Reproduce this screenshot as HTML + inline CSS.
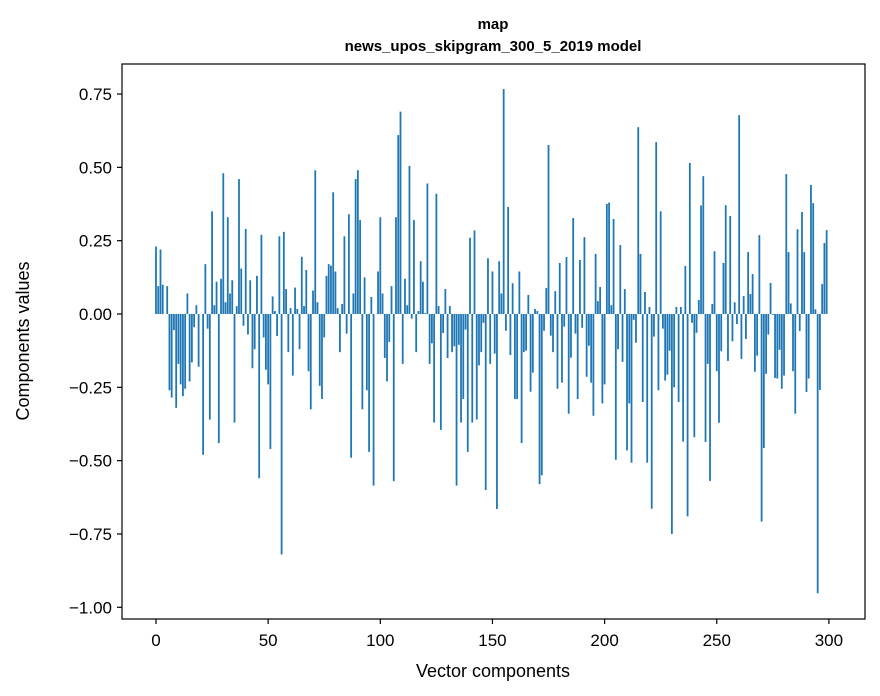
<!DOCTYPE html>
<html><head><meta charset="utf-8">
<style>
body{margin:0;background:#fff;}
svg{display:block;font-family:"Liberation Sans","DejaVu Sans",sans-serif;}
</style></head>
<body>
<svg id="chart" width="880" height="696" viewBox="0 0 880 696">
<rect x="0" y="0" width="880" height="696" fill="#fff"/>
<text x="493" y="29" text-anchor="middle" font-size="15" font-weight="bold">map</text>
<text x="493" y="51" text-anchor="middle" font-size="15" font-weight="bold">news_upos_skipgram_300_5_2019 model</text>
<g id="bars"></g>
<rect x="122" y="64" width="743" height="555" fill="none" stroke="#000" stroke-width="1.2"/>
<g id="xticks"></g>
<g id="yticks"></g>
<text x="493" y="677" text-anchor="middle" font-size="18">Vector components</text>
<text transform="translate(29,341) rotate(-90)" text-anchor="middle" font-size="18">Components values</text>
</svg>
<script>
const values = [
0.23,0.095,0.22,0.10,0.0,0.095,-0.26,-0.285,-0.055,-0.32,-0.17,-0.24,-0.28,-0.255,0.07,-0.23,-0.165,-0.045,0.03,-0.18,0.0,-0.48,0.17,-0.05,-0.36,0.35,0.03,0.11,-0.44,0.12,0.48,0.04,0.33,0.07,0.115,-0.37,0.027,0.46,0.155,-0.04,0.29,-0.07,0.115,-0.185,-0.12,0.13,-0.56,0.27,-0.08,
-0.19,-0.24,-0.46,0.06,0.01,-0.075,0.265,-0.82,0.28,0.085,-0.13,0.02,-0.21,0.09,0.017,-0.12,0.195,0.027,0.15,-0.195,-0.325,0.08,0.49,0.04,-0.245,-0.29,-0.08,0.13,0.17,0.165,0.415,0.145,0.02,-0.13,0.034,0.265,-0.067,0.34,-0.49,0.07,0.46,0.49,0.32,-0.325,0.125,-0.26,-0.47,0.058,-0.585,
0.0,
0.145,0.33,0.07,-0.15,-0.23,-0.095,0.095,-0.57,0.33,0.61,0.69,-0.17,0.12,0.03,0.505,-0.016,0.32,-0.13,0.01,0.18,0.11,0.003,0.445,-0.17,-0.10,-0.37,0.41,0.027,-0.395,-0.065,0.085,-0.15,0.027,-0.13,-0.11,-0.585,-0.105,-0.37,-0.29,-0.053,-0.47,0.26,-0.37,0.285,-0.36,-0.175,-0.13,-0.03,
-0.60,0.19,-0.17,0.145,-0.135,-0.665,0.18,0.07,0.767,-0.057,0.365,-0.14,0.105,-0.29,-0.29,0.145,-0.44,-0.13,-0.125,0.065,-0.265,-0.20,0.017,0.01,-0.58,-0.55,-0.057,0.089,0.576,-0.074,-0.13,0.078,-0.255,0.174,-0.234,-0.043,0.194,-0.34,-0.149,0.327,-0.067,-0.29,0.184,-0.047,0.262,-0.214,-0.108,-0.234,-0.347,
0.205,0.044,0.092,-0.305,-0.24,0.375,0.38,0.03,0.324,-0.497,-0.12,0.235,-0.163,0.085,-0.465,-0.305,-0.507,-0.02,-0.098,0.637,0.205,-0.30,0.075,-0.507,0.024,-0.664,-0.077,0.586,-0.26,0.35,-0.05,-0.227,-0.207,-0.125,-0.75,-0.25,0.024,-0.30,0.024,-0.435,0.164,-0.69,0.515,-0.03,-0.42,-0.064,0.048,0.37,0.47,
-0.436,-0.17,-0.569,0.034,0.214,-0.195,-0.371,-0.127,0.174,0.371,-0.16,0.334,-0.093,0.04,-0.034,0.678,-0.153,0.061,-0.085,0.211,0.068,0.136,-0.197,-0.142,0.269,-0.708,-0.457,-0.204,-0.07,0.106,-0.003,-0.218,-0.22,-0.122,-0.255,-0.21,0.477,0.211,0.036,-0.195,-0.34,0.289,-0.058,0.348,0.211,-0.266,-0.22,0.44,0.378,0.016,-0.952,-0.259,0.102,0.242,0.286
];
const xTickValues = [0,50,100,150,200,250,300];
const yTickValues = [-1.00,-0.75,-0.50,-0.25,0.00,0.25,0.50,0.75];

const NS = "http://www.w3.org/2000/svg";
function xScale(i){ return 156 + 2.243*i; }
function yScale(v){ return 314 - 293.3*v; }

const barsG = document.getElementById('bars');
const bw = 0.8*2.243;
values.forEach(function(v,i){
  const r = document.createElementNS(NS,'rect');
  const y0 = yScale(0), y1 = yScale(v);
  r.setAttribute('x', (xScale(i)-bw/2).toFixed(2));
  r.setAttribute('y', Math.min(y0,y1).toFixed(2));
  r.setAttribute('width', bw.toFixed(2));
  r.setAttribute('height', Math.max(0.01,Math.abs(y1-y0)).toFixed(2));
  r.setAttribute('fill', '#1f77b4');
  
  
  barsG.appendChild(r);
});

const xg = document.getElementById('xticks');
xTickValues.forEach(function(t){
  const x = xScale(t);
  const l = document.createElementNS(NS,'line');
  l.setAttribute('x1',x); l.setAttribute('x2',x);
  l.setAttribute('y1',619); l.setAttribute('y2',624);
  l.setAttribute('stroke','#000'); l.setAttribute('stroke-width','1.2');
  
  
  xg.appendChild(l);
  const tx = document.createElementNS(NS,'text');
  tx.setAttribute('x',x); tx.setAttribute('y',646);
  tx.setAttribute('text-anchor','middle'); tx.setAttribute('font-size','17');
  tx.textContent = String(t);
  
  
  xg.appendChild(tx);
});

const yg = document.getElementById('yticks');
yTickValues.forEach(function(t){
  const y = yScale(t);
  const l = document.createElementNS(NS,'line');
  l.setAttribute('x1',117); l.setAttribute('x2',122);
  l.setAttribute('y1',y); l.setAttribute('y2',y);
  l.setAttribute('stroke','#000'); l.setAttribute('stroke-width','1.2');
  
  
  yg.appendChild(l);
  const tx = document.createElementNS(NS,'text');
  tx.setAttribute('x',112); tx.setAttribute('y',y+6);
  tx.setAttribute('text-anchor','end'); tx.setAttribute('font-size','17');
  tx.textContent = (t<0?'\u2212':'') + Math.abs(t).toFixed(2);
  
  
  yg.appendChild(tx);
});
</script>
</body></html>
